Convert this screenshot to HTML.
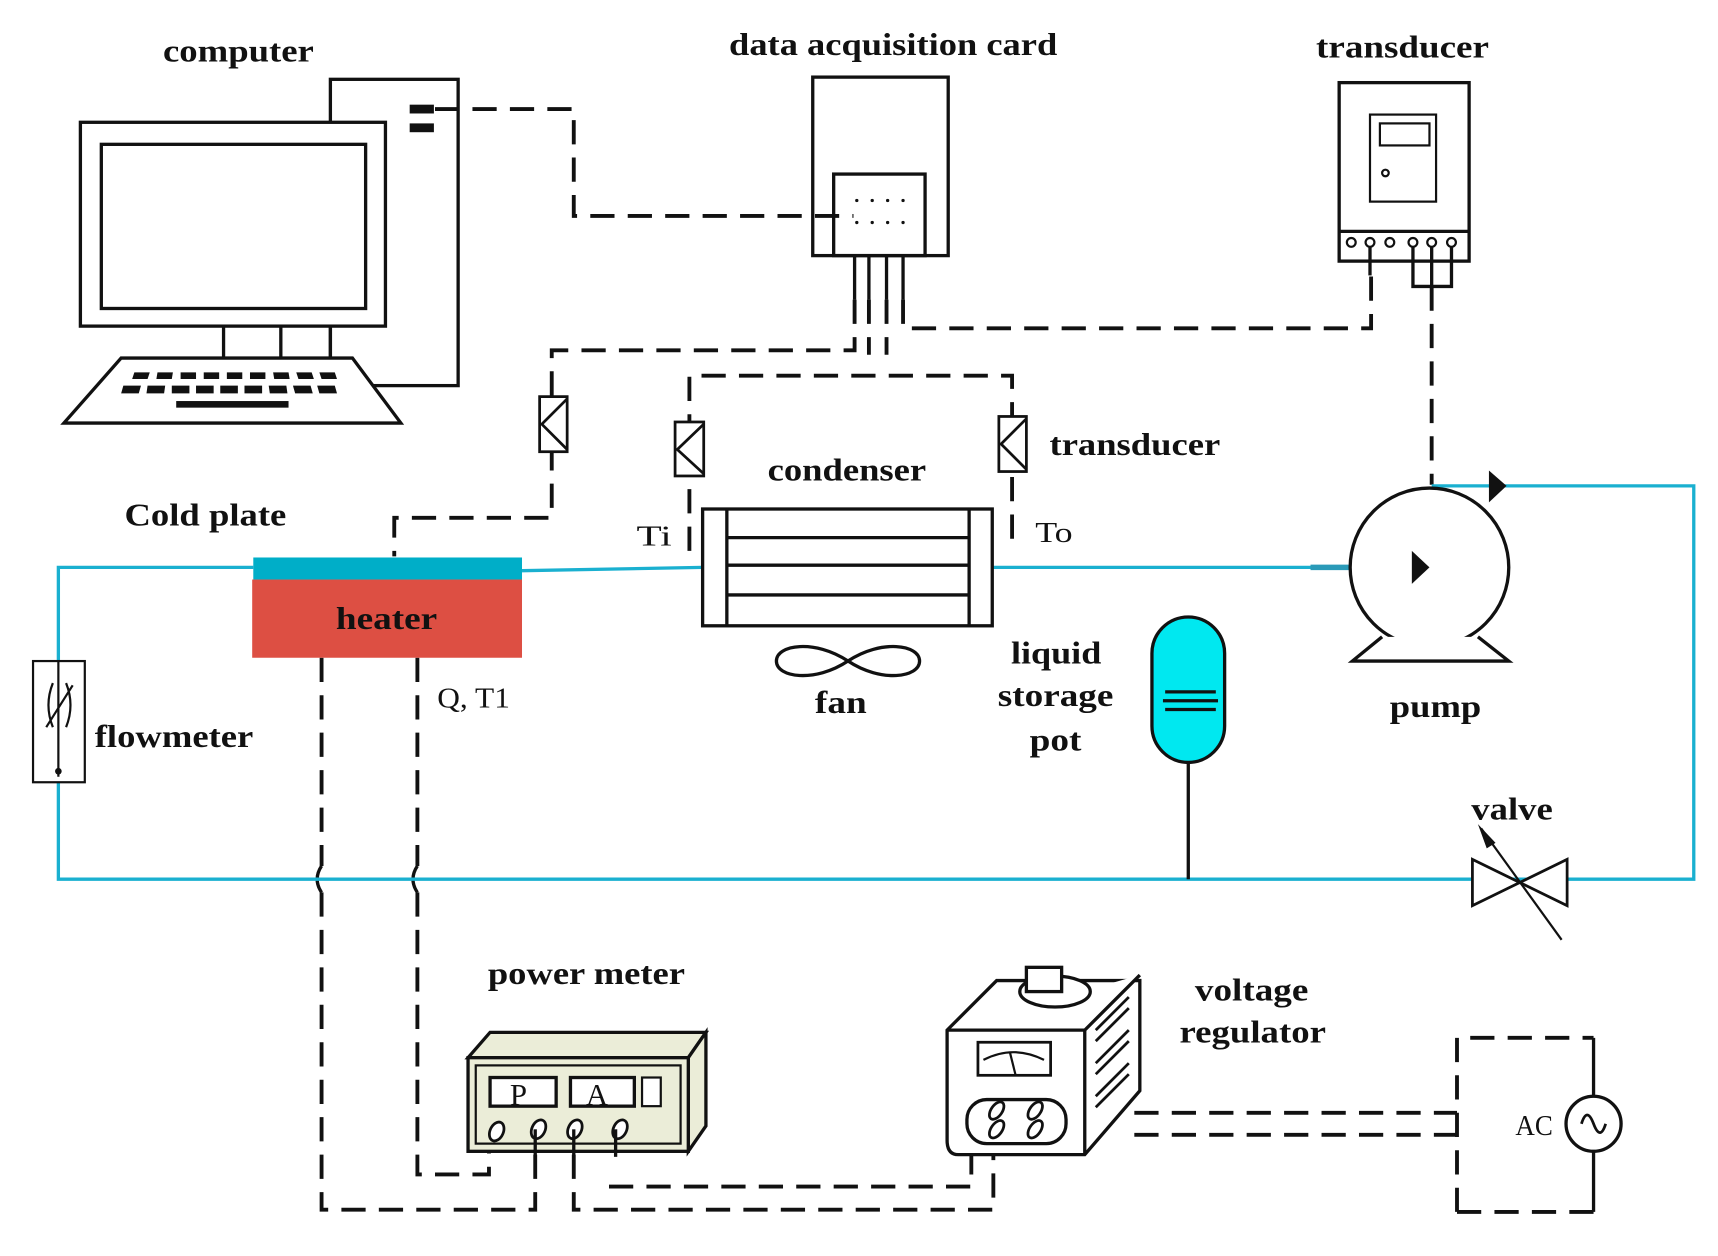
<!DOCTYPE html>
<html><head><meta charset="utf-8"><style>
html,body{margin:0;padding:0;background:#fff;}
svg{display:block;}
text{font-family:"Liberation Serif",serif;font-weight:bold;fill:#111;}
.n{font-weight:normal;}
</style></head><body>
<svg width="1718" height="1256" viewBox="0 0 1560 1140" preserveAspectRatio="none" xmlns="http://www.w3.org/2000/svg">
<g fill="none" stroke="#111" stroke-width="3">
<rect x="300" y="72" width="116" height="278"/>
<rect x="73" y="111" width="277" height="185" fill="#fff"/>
<rect x="92" y="131" width="240" height="149"/>
<line x1="203" y1="296" x2="203" y2="325"/><line x1="255" y1="296" x2="255" y2="325"/><line x1="300" y1="296" x2="300" y2="325"/>
<path d="M110 325 L320 325 L364 384 L58 384 Z" fill="#fff"/>
</g>
<rect x="372" y="95" width="22" height="8" fill="#111"/><rect x="372" y="112" width="22" height="8" fill="#111"/>
<g fill="#111">
<path d="M122 338h14l-2 6h-14z M143 338h14l-1 6h-14z M164 338h14v6h-14z M185 338h14v6h-14z M206 338h14v6h-14z M227 338h14v6h-14z M248 338h14l1 6h-14z M269 338h14l2 6h-14z M290 338h14l2 6h-14z"/>
<path d="M112 350h16l-2 7h-16z M134 350h16l-1 7h-16z M156 350h16v7h-16z M178 350h16v7h-16z M200 350h16v7h-16z M222 350h16v7h-16z M244 350h16l1 7h-16z M266 350h16l2 7h-16z M288 350h16l2 7h-16z"/>
<rect x="160" y="364" width="102" height="6"/>
</g>
<g fill="none" stroke="#111" stroke-width="3">
<rect x="738" y="70" width="123" height="162"/>
<rect x="757" y="158" width="83" height="74"/>
<line x1="776" y1="232" x2="776" y2="272"/><line x1="789" y1="232" x2="789" y2="272"/><line x1="805" y1="232" x2="805" y2="272"/><line x1="820" y1="232" x2="820" y2="272"/>
</g>
<g fill="#111"><circle cx="778" cy="182" r="1.5"/><circle cx="792" cy="182" r="1.5"/><circle cx="806" cy="182" r="1.5"/><circle cx="820" cy="182" r="1.5"/>
<circle cx="778" cy="202" r="1.5"/><circle cx="792" cy="202" r="1.5"/><circle cx="806" cy="202" r="1.5"/><circle cx="820" cy="202" r="1.5"/></g>
<g fill="none" stroke="#111" stroke-width="3">
<rect x="1216" y="75" width="118" height="162"/>
<line x1="1216" y1="210" x2="1334" y2="210"/>
<rect x="1244" y="104" width="60" height="79" stroke-width="2"/>
<rect x="1253" y="112" width="45" height="20" stroke-width="2"/>
<circle cx="1258" cy="157" r="3" stroke-width="2"/>
<g stroke-width="2"><circle cx="1227" cy="220" r="4"/><circle cx="1244" cy="220" r="4"/><circle cx="1262" cy="220" r="4"/><circle cx="1283" cy="220" r="4"/><circle cx="1300" cy="220" r="4"/><circle cx="1318" cy="220" r="4"/></g>
<line x1="1244" y1="224" x2="1244" y2="250"/>
<path d="M1283 224 V260 H1318 V224 M1300 224 V260"/>
</g>
<g fill="none" stroke="#111" stroke-width="3.5" stroke-dasharray="22 12">
<path d="M395 99 H521 V196 H775"/>
<path d="M776 272 V318 H501 V470 H358 V505"/>
<path d="M789 272 V322"/>
<path d="M805 272 V322"/>
<path d="M820 272 V298 H1245 V250"/>
<path d="M626 500 V341 H919 V500"/>
<path d="M1300 260 V440"/>
<path d="M292 597 V786 M292 810 V1098 H486 V1048"/>
<path d="M379 597 V786 M379 810 V1066 H444 V1040"/>
<path d="M521 1048 V1098 H902 V1040"/>
<path d="M553 1077 H882 V1040"/>
<path d="M1030 1010 H1323 M1030 1030 H1323"/>
<path d="M1323 1100 V942 H1447"/>
<path d="M1323 1100 H1447"/>
</g>
<path d="M292 786 q-8 12 0 24 M379 786 q-8 12 0 24" fill="none" stroke="#111" stroke-width="3"/>
<g fill="#fff" stroke="#111" stroke-width="2.5">
<rect x="490" y="360" width="25" height="50"/><path d="M515 362 L492 385 L515 408" fill="none"/>
<rect x="613" y="383" width="26" height="49"/><path d="M639 385 L615 408 L639 430" fill="none"/>
<rect x="907" y="378" width="25" height="50"/><path d="M932 380 L909 403 L932 426" fill="none"/>
</g>
<g fill="none" stroke="#1ab0d0" stroke-width="3">
<path d="M230 515 H53 V798 H1538 V441 H1300"/>
<path d="M474 518 L638 515"/>
<path d="M900 515 H1283"/>
</g>
<line x1="1190" y1="515" x2="1283" y2="515" stroke="#2a9ab8" stroke-width="5"/>
<rect x="230" y="506" width="244" height="20" fill="#00aec8"/>
<rect x="229" y="526" width="245" height="71" fill="#dd4f43"/>
<rect x="30" y="600" width="47" height="110" fill="#fff" stroke="#111" stroke-width="2"/>
<line x1="53" y1="600" x2="53" y2="705" stroke="#111" stroke-width="2"/>
<circle cx="53" cy="700" r="3" fill="#111"/>
<path d="M48 620 q-8 20 0 40 M60 620 q8 20 0 40 M42 660 L66 622" fill="none" stroke="#111" stroke-width="2"/>
<g fill="#fff" stroke="#111" stroke-width="3">
<rect x="638" y="462" width="263" height="106"/>
<line x1="660" y1="462" x2="660" y2="568"/><line x1="880" y1="462" x2="880" y2="568"/>
<line x1="660" y1="488" x2="880" y2="488"/><line x1="660" y1="513" x2="880" y2="513"/><line x1="660" y1="540" x2="880" y2="540"/>
</g>
<path d="M770 600 C740 580 705 585 705 600 C705 615 740 620 770 600 C800 580 835 585 835 600 C835 615 800 620 770 600 Z" fill="#fff" stroke="#111" stroke-width="3"/>
<line x1="1079" y1="692" x2="1079" y2="798" stroke="#111" stroke-width="3"/>
<rect x="1046" y="560" width="66" height="132" rx="33" fill="#00e8f0" stroke="#111" stroke-width="3"/>
<g stroke="#111" stroke-width="3"><line x1="1058" y1="628" x2="1104" y2="628"/><line x1="1056" y1="636" x2="1106" y2="636"/><line x1="1058" y1="644" x2="1104" y2="644"/></g>
<circle cx="1298" cy="515" r="72" fill="#fff" stroke="#111" stroke-width="3"/>
<path d="M1255 578 L1228 600 H1370 L1342 578" fill="#fff" stroke="#111" stroke-width="3"/>
<path d="M1282 500 L1298 515 L1282 530 Z" fill="#111"/>
<path d="M1352 427 L1368 441 L1352 456 Z" fill="#111"/>
<path d="M1337 780 L1423 822 L1423 780 L1337 822 Z" fill="#fff" stroke="#111" stroke-width="2.5"/>
<line x1="1345" y1="752" x2="1418" y2="853" stroke="#111" stroke-width="2"/>
<path d="M1342 748 L1358 765 L1350 770 Z" fill="#111"/>
<g stroke="#111" stroke-width="3">
<path d="M425 960 L445 937 H641 L625 960 Z" fill="#ebedd8"/>
<path d="M625 960 L641 937 V1022 L625 1045 Z" fill="#ebedd8"/>
<rect x="425" y="960" width="200" height="85" fill="#ebedd8"/>
<rect x="432" y="967" width="186" height="71" fill="none" stroke-width="2"/>
<rect x="445" y="978" width="60" height="26" fill="#fff"/>
<rect x="518" y="978" width="58" height="26" fill="#fff"/>
<rect x="583" y="978" width="17" height="26" fill="#fff" stroke-width="2"/>
</g>
<text x="463" y="1003" font-size="28" class="n">P</text>
<text x="532" y="1003" font-size="28" class="n">A</text>
<g fill="#fff" stroke="#111" stroke-width="2.5">
<ellipse cx="451" cy="1027" rx="6" ry="9" transform="rotate(25 451 1027)"/>
<ellipse cx="489" cy="1025" rx="6" ry="9" transform="rotate(25 489 1025)"/>
<ellipse cx="522" cy="1025" rx="6" ry="9" transform="rotate(25 522 1025)"/>
<ellipse cx="563" cy="1025" rx="6" ry="9" transform="rotate(25 563 1025)"/>
</g>
<g stroke="#111" stroke-width="3"><line x1="486" y1="1025" x2="486" y2="1050"/><line x1="521" y1="1025" x2="521" y2="1050"/><line x1="559" y1="1025" x2="559" y2="1050"/></g>
<g fill="#fff" stroke="#111" stroke-width="3">
<path d="M860 935 L905 890 H1035 V990 L985 1048 H870 Q860 1048 860 1035 Z"/>
<path d="M860 935 H985 L1035 885"/>
<path d="M985 935 V1048"/>
<ellipse cx="958" cy="900" rx="32" ry="14"/>
<rect x="932" y="878" width="32" height="22"/>
<rect x="888" y="946" width="66" height="30" stroke-width="2.5"/>
<path d="M893 962 Q920 948 948 962" fill="none" stroke-width="2"/>
<line x1="917" y1="955" x2="922" y2="975" stroke-width="2"/>
<rect x="878" y="998" width="90" height="40" rx="18"/>
</g>
<g fill="none" stroke="#111" stroke-width="2.5">
<path d="M995 935 L1025 905 M995 965 L1025 935 M995 995 L1025 965"/>
<path d="M995 945 L1025 915 M995 975 L1025 945 M995 1005 L1025 975"/>
<ellipse cx="905" cy="1008" rx="5" ry="9" transform="rotate(35 905 1008)"/>
<ellipse cx="905" cy="1025" rx="5" ry="9" transform="rotate(35 905 1025)"/>
<ellipse cx="940" cy="1008" rx="5" ry="9" transform="rotate(35 940 1008)"/>
<ellipse cx="940" cy="1025" rx="5" ry="9" transform="rotate(35 940 1025)"/>
</g>
<line x1="1447" y1="942" x2="1447" y2="1100" stroke="#111" stroke-width="3"/>
<circle cx="1447" cy="1020" r="25" fill="#fff" stroke="#111" stroke-width="3"/>
<path d="M1436 1020 q5 -16 11 0 q6 16 11 0" fill="none" stroke="#111" stroke-width="2.5"/>
<g font-size="29">
<text x="148" y="56" textLength="137" lengthAdjust="spacingAndGlyphs">computer</text>
<text x="662" y="50" textLength="298" lengthAdjust="spacingAndGlyphs">data acquisition card</text>
<text x="1195" y="52" textLength="157" lengthAdjust="spacingAndGlyphs">transducer</text>
<text x="953" y="413" textLength="155" lengthAdjust="spacingAndGlyphs">transducer</text>
<text x="697" y="436" textLength="144" lengthAdjust="spacingAndGlyphs">condenser</text>
<text x="113" y="477" textLength="147" lengthAdjust="spacingAndGlyphs">Cold plate</text>
<text x="305" y="571" textLength="92" lengthAdjust="spacingAndGlyphs">heater</text>
<text x="86" y="678" textLength="144" lengthAdjust="spacingAndGlyphs">flowmeter</text>
<text x="740" y="647" textLength="47" lengthAdjust="spacingAndGlyphs">fan</text>
<text x="918" y="602" textLength="82" lengthAdjust="spacingAndGlyphs">liquid</text>
<text x="906" y="641" textLength="105" lengthAdjust="spacingAndGlyphs">storage</text>
<text x="935" y="681" textLength="47" lengthAdjust="spacingAndGlyphs">pot</text>
<text x="1262" y="651" textLength="83" lengthAdjust="spacingAndGlyphs">pump</text>
<text x="1336" y="744" textLength="74" lengthAdjust="spacingAndGlyphs">valve</text>
<text x="443" y="893" textLength="179" lengthAdjust="spacingAndGlyphs">power meter</text>
<text x="1085" y="908" textLength="103" lengthAdjust="spacingAndGlyphs">voltage</text>
<text x="1071" y="946" textLength="133" lengthAdjust="spacingAndGlyphs">regulator</text>
</g>
<text x="578" y="495" font-size="26" class="n" textLength="32" lengthAdjust="spacingAndGlyphs">Ti</text>
<text x="940" y="492" font-size="26" class="n" textLength="34" lengthAdjust="spacingAndGlyphs">To</text>
<text x="397" y="642" font-size="26" class="n" textLength="66" lengthAdjust="spacingAndGlyphs">Q, T1</text>
<text x="1376" y="1030" font-size="26" class="n" textLength="34" lengthAdjust="spacingAndGlyphs">AC</text>
</svg>
</body></html>
